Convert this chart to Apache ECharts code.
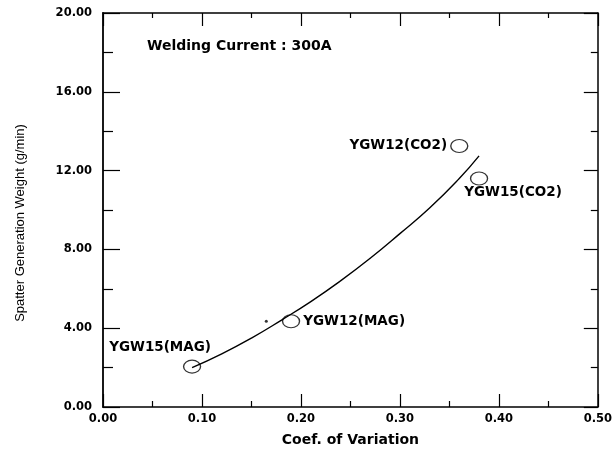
<!DOCTYPE html>
<html>
<head>
<meta charset="utf-8">
<script src="https://cdn.jsdelivr.net/npm/echarts@6/dist/echarts.min.js"></script>
<style>html,body{margin:0;padding:0;background:#fff}#c{width:615px;height:455px}</style>
</head>
<body>
<div id="c"></div>
<script>
// Measured points (Coef. of Variation, Spatter Generation Weight g/min)
var pointNames = ['YGW15(MAG)', 'YGW12(MAG)', 'YGW12(CO2)', 'YGW15(CO2)'];
var pointX = [0.09, 0.19, 0.36, 0.38];
var pointY = [2.05, 4.35, 13.25, 11.6];
// Fitted curve
var curveX = [0.09, 0.12, 0.15, 0.18, 0.21, 0.24, 0.27, 0.30, 0.33, 0.36, 0.38];
var curveY = [2.0, 2.7, 3.5, 4.4, 5.35, 6.4, 7.55, 8.8, 10.1, 11.6, 12.75];
// stray dot in the scan
var dotX = [0.165];
var dotY = [4.35];
var xTicks = ['0.00', '0.10', '0.20', '0.30', '0.40', '0.50'];
var yTicks = ['0.00', '4.00', '8.00', '12.00', '16.00', '20.00'];

var bold = 'DejaVu Sans';
var labelCfg = [
  {position: 'inside', offset: [-32, -19.5]},
  {position: 'right', distance: 3},
  {position: 'left', distance: 3},
  {position: 'bottom', distance: 0, offset: [34, 0]}
];
var pts = pointNames.map(function (n, i) {
  return {
    name: n, value: [pointX[i], pointY[i]],
    label: Object.assign({show: true, formatter: n, color: '#000', opacity: 1,
      textBorderWidth: 0, fontFamily: bold, fontWeight: 'bold', fontSize: 13.5}, labelCfg[i])
  };
});

var chart = echarts.init(document.getElementById('c'), null, {renderer: 'canvas'});
chart.setOption({
  animation: false,
  backgroundColor: '#fff',
  grid: {left: 103, right: 15, top: 13, bottom: 48},
  graphic: [{
    type: 'text', left: 147, top: 39,
    style: {text: 'Welding Current : 300A', fontFamily: bold, fontWeight: 'bold', fontSize: 14, fill: '#000'}
  }, {
    type: 'text', x: 20, y: 223, rotation: Math.PI / 2,
    style: {text: 'Spatter Generation Weight (g/min)', fontFamily: 'Liberation Sans', fontSize: 13,
      fill: '#000', align: 'center', verticalAlign: 'middle'}
  }],
  xAxis: [{
    type: 'value', min: 0, max: 0.5, interval: 0.1,
    name: 'Coef. of Variation', nameLocation: 'middle', nameGap: 26,
    nameTextStyle: {fontFamily: bold, fontWeight: 'bold', fontSize: 14, color: '#000'},
    axisLine: {show: true, onZero: false, lineStyle: {color: '#000', width: 1.5}},
    axisTick: {show: true, inside: true, length: 13, lineStyle: {color: '#000', width: 1.2}},
    minorTick: {show: true, splitNumber: 2, length: 6, lineStyle: {color: '#000', width: 1.2}},
    splitLine: {show: false},
    axisLabel: {color: '#000', fontFamily: bold, fontWeight: 'bold', fontSize: 11.5, margin: 6,
      formatter: function (v) { return xTicks[Math.round(v * 10)]; }}
  }, {
    type: 'value', position: 'top', min: 0, max: 0.5, interval: 0.1,
    axisLine: {show: true, onZero: false, lineStyle: {color: '#000', width: 1.5}},
    axisTick: {show: true, inside: true, length: 13, lineStyle: {color: '#000', width: 1.2}},
    minorTick: {show: true, splitNumber: 2, length: 5, lineStyle: {color: '#000', width: 1.2}},
    splitLine: {show: false}, axisLabel: {show: false}
  }],
  yAxis: [{
    type: 'value', min: 0, max: 20, interval: 4,
    axisLine: {show: true, onZero: false, lineStyle: {color: '#000', width: 1.8}},
    axisTick: {show: true, inside: true, length: 17, lineStyle: {color: '#000', width: 1.2}},
    minorTick: {show: true, splitNumber: 2, length: 10, lineStyle: {color: '#000', width: 1.2}},
    splitLine: {show: false},
    axisLabel: {color: '#000', fontFamily: bold, fontWeight: 'bold', fontSize: 11.5, margin: 11,
      formatter: function (v) { return yTicks[Math.round(v / 4)]; }}
  }, {
    type: 'value', position: 'right', min: 0, max: 20, interval: 4,
    axisLine: {show: true, onZero: false, lineStyle: {color: '#000', width: 1.5}},
    axisTick: {show: true, inside: true, length: 14, lineStyle: {color: '#000', width: 1.2}},
    minorTick: {show: true, splitNumber: 2, length: 7, lineStyle: {color: '#000', width: 1.2}},
    splitLine: {show: false}, axisLabel: {show: false}
  }],
  series: [{
    type: 'line', smooth: true, symbol: 'none',
    data: curveX.map(function (x, i) { return [x, curveY[i]]; }),
    lineStyle: {color: '#000', width: 1.4}
  }, {
    type: 'scatter', symbol: 'circle', symbolSize: [17, 13],
    itemStyle: {color: 'rgba(255,255,255,0)', borderColor: '#000', borderWidth: 1.2},
    data: pts, z: 3
  }, {
    type: 'scatter', symbol: 'circle', symbolSize: 3,
    itemStyle: {color: '#000'},
    data: dotX.map(function (x, i) { return [x, dotY[i]]; })
  }]
});
</script>
</body>
</html>
